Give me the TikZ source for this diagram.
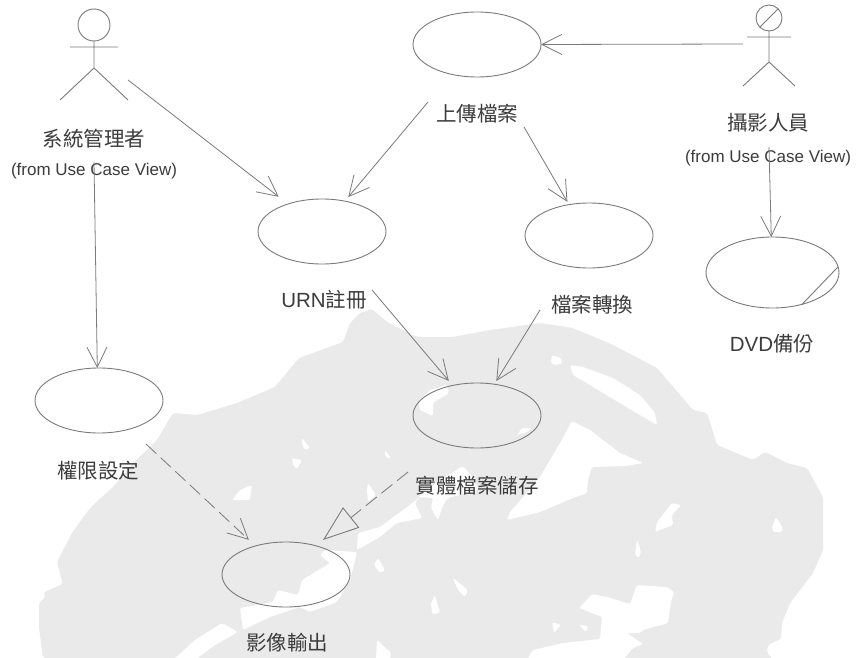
\documentclass[tikz,border=0pt]{standalone}
\usepackage{fontspec}
\setmainfont{Liberation Sans}
\newfontfamily\cj{Noto Sans CJK TC}
\usetikzlibrary{shapes.geometric,arrows.meta}
\definecolor{mapgrey}{HTML}{EAEAEA}
\definecolor{linegrey}{HTML}{7A7A7A}
\definecolor{textgrey}{HTML}{3C3C3C}
\tikzset{
  usecase/.style={ellipse,draw=linegrey,line width=0.9pt,minimum width=128pt,minimum height=65pt,inner sep=0pt,outer sep=0pt},
  head/.style={circle,draw=linegrey,line width=0.9pt,inner sep=0pt,outer sep=0pt},
  limb/.style={draw=linegrey,line width=0.9pt},
  assoc/.style={draw=linegrey,line width=0.8pt,-{Straight Barb[length=20pt,width=20pt,line width=0.8pt]}},
  depend/.style={assoc,dash pattern=on 14pt off 6pt},
  generalise/.style={draw=linegrey,line width=0.8pt,dash pattern=on 14pt off 6pt,-{Triangle[open,length=36pt,width=26pt,line width=0.9pt]}},
  cjlabel/.style={text=textgrey,inner sep=0pt,font=\cj\fontsize{20.5}{22}\selectfont},
  latlabel/.style={text=textgrey,inner sep=0pt,font=\fontsize{20.5}{22}\selectfont},
  fromlabel/.style={text=textgrey,inner sep=0pt,font=\fontsize{17}{19}\selectfont},
  land/.style={fill=mapgrey,draw=none,rounded corners=2pt},
  gap/.style={fill=white,draw=none,rounded corners=1.5pt},
}
\begin{document}
\begin{tikzpicture}[x=1pt,y=-1pt]
\useasboundingbox (0,0) rectangle (856,658);
\fill[white] (0,0) rectangle (856,658);
% grey map
\path[land] (43,658) -- (39,627) -- (39,603) -- (45,598) -- (44,592) -- (63,584) -- (57,562) -- (72,533) -- (90,508) -- (113,487) -- (133,463) -- (147,450) -- (157,440) -- (173,413) -- (197,415) -- (237,403) -- (275,387) -- (299,358) -- (343,342) -- (350,323) -- (360,313) -- (372,309) -- (387,322) -- (417,337) -- (453,337) -- (490,330) -- (540,323) -- (573,328) -- (613,345) -- (657,368) -- (693,410) -- (707,413) -- (717,445) -- (753,460) -- (765,452) -- (787,463) -- (807,468) -- (823,497) -- (823,550) -- (813,573) -- (790,603) -- (782,623) -- (781,639) -- (768,645) -- (767,653) -- (772,658) -- cycle;
% white gaps in the map
\path[gap] (240,608) -- (273,602) -- (278,590) -- (298,595) -- (302,580) -- (330,563) -- (320,555) -- (325,550) -- (357,552) -- (350,580) -- (337,602) -- (310,612) -- (300,607) -- (270,617) -- (243,630) -- cycle;
\path[gap] (357,550) -- (358,533) -- (380,527) -- (407,507) -- (420,497) -- (415,503) -- (422,518) -- (397,523) -- (380,537) -- cycle;
\path[gap] (418,497) -- (440,480) -- (463,466) -- (475,480) -- (478,490) -- (448,498) -- (443,505) -- (438,520) -- (431,508) -- (433,498) -- cycle;
\path[gap] (572,421) -- (590,430) -- (607,443) -- (620,453) -- (643,463) -- (625,466) -- (592,467) -- (588,480) -- (587,493) -- (573,498) -- (540,512) -- (507,520) -- (510,512) -- (525,495) -- (540,477) -- (560,443) -- cycle;
\path[gap] (570,365) -- (583,367) -- (613,378) -- (640,395) -- (655,413) -- (657,425) -- (623,405) -- (590,385) -- (573,375) -- cycle;
\path[gap] (552,355) -- (561,358) -- (562,364) -- (553,365) -- (551,362) -- cycle;
\path[gap] (447,385) -- (430,390) -- (418,402) -- (420,410) -- (433,416) -- (433,403) -- (449,393) -- cycle;
\path[gap] (517,435) -- (522,428) -- (532,428) -- (525,433) -- cycle;
\path[gap] (385,450) -- (391,458) -- (389,459) -- (385,456) -- cycle;
\path[gap] (302,438) -- (310,448) -- (305,450) -- (302,444) -- cycle;
\path[gap] (292,458) -- (302,460) -- (297,469) -- (293,465) -- cycle;
\path[gap] (252,485) -- (250,500) -- (232,500) -- (240,490) -- cycle;
\path[gap] (368,483) -- (376,495) -- (368,502) -- (367,490) -- cycle;
\path[gap] (378,558) -- (385,570) -- (380,573) -- (374,565) -- cycle;
\path[gap] (453,578) -- (468,590) -- (465,597) -- (458,590) -- cycle;
\path[gap] (435,595) -- (440,613) -- (432,614) -- (431,603) -- cycle;
\path[gap] (377,640) -- (391,653) -- (390,660) -- (376,660) -- cycle;
\path[gap] (222,623) -- (238,632) -- (215,645) -- (195,660) -- (173,660) -- (195,640) -- cycle;
\path[gap] (527,660) -- (533,650) -- (563,643) -- (600,639) -- (602,617) -- (579,608) -- (592,594) -- (607,597) -- (630,604) -- (637,585) -- (667,587) -- (674,592) -- (671,602) -- (668,623) -- (643,630) -- (640,633) -- (627,633) -- (643,644) -- (633,648) -- (623,660) -- cycle;
\path[gap] (552,622) -- (561,625) -- (554,633) -- cycle;
\path[gap] (579,625) -- (588,626) -- (586,632) -- cycle;
\path[gap] (637,540) -- (641,552) -- (639,558) -- (635,555) -- cycle;
\path[gap] (672,503) -- (681,505) -- (672,515) -- (673,525) -- (655,532) -- (657,522) -- cycle;
\path[gap] (776,517) -- (783,528) -- (782,532) -- (773,532) -- (772,527) -- cycle;
% use cases
\node[usecase] (upload) at (477,44.5) {};
\node[usecase] (urn) at (322,231.5) {};
\node[usecase] (convert) at (589,235.5) {};
\node[usecase] (store) at (477,415.5) {};
\node[usecase] (output) at (286,574.5) {};
\node[usecase] (rights) at (99,400.5) {};
\node[usecase,minimum width=133pt,minimum height=71pt] (dvd) at (772.5,272.5) {};
\draw[limb] (dvd.5) -- (dvd.-47);
% actors
\node[head,minimum size=32pt] (adminhead) at (94,25) {};
\coordinate (adminhip) at (94,68);
\coordinate (adminl) at (70,47);
\coordinate (adminr) at (118,47);
\coordinate (adminfl) at (60,100);
\coordinate (adminfr) at (128,100);
\draw[limb] (adminhead.south) -- (adminhip) (adminl) -- (adminr) (adminfl) -- (adminhip) -- (adminfr);
\node[head,minimum size=26pt] (photohead) at (769,18) {};
\draw[limb] (photohead.225) -- (photohead.45);
\coordinate (photohip) at (769,62);
\coordinate (photol) at (747,37);
\coordinate (photor) at (791,37);
\coordinate (photofl) at (743,86);
\coordinate (photofr) at (795,86);
\draw[limb] (photohead.south) -- (photohip) (photol) -- (photor) (photofl) -- (photohip) -- (photofr);
% labels
\node[cjlabel] (adminname) at (94,139) {系統管理者};
\node[fromlabel] (adminfrom) at (94,171) {(from Use Case View)};
\node[cjlabel] (photoname) at (768,123) {攝影人員};
\node[fromlabel] (photofrom) at (768,158) {(from Use Case View)};
\node[cjlabel] (uploadlab) at (477,114) {上傳檔案};
\node[latlabel] (urnlab) at (324,300) {URN{\cj 註冊}};
\node[cjlabel] (convertlab) at (592,305) {檔案轉換};
\node[latlabel] (dvdlab) at (772,344) {DVD{\cj 備份}};
\node[cjlabel] (rightslab) at (98,471) {權限設定};
\node[cjlabel] (storelab) at (477,486) {實體檔案儲存};
\node[cjlabel] (outputlab) at (287,643) {影像輸出};
% connector free ends
\coordinate (a1) at (128,80);
\coordinate (a2) at (94,162);
\coordinate (p1) at (743,44);
\coordinate (p2) at (769,147);
\coordinate (u1) at (428,102);
\coordinate (u2) at (524,127);
\coordinate (n1) at (372,290);
\coordinate (c1) at (540,310);
\coordinate (r1) at (146,444);
\coordinate (s1) at (408,472);
% connectors
\draw[assoc,shorten >=11.8pt] (a1) -- (urn.141.4);
\draw[assoc] (a2) -- (rights.93);
\draw[assoc] (p1) -- (upload.east);
\draw[assoc] (p2) -- (dvd.92);
\draw[assoc,shorten >=5.3pt] (u1) -- (urn.53.8);
\draw[assoc,shorten >=3.2pt] (u2) -- (convert.123.2);
\draw[assoc,shorten >=6pt] (n1) -- (store.129.7);
\draw[assoc,shorten >=3.8pt] (c1) -- (store.61.9);
\draw[depend,shorten >=9pt] (r1) -- (output.137.5);
\draw[generalise,shorten >=9.3pt] (s1) -- (output.44.5);
\end{tikzpicture}
\end{document}
